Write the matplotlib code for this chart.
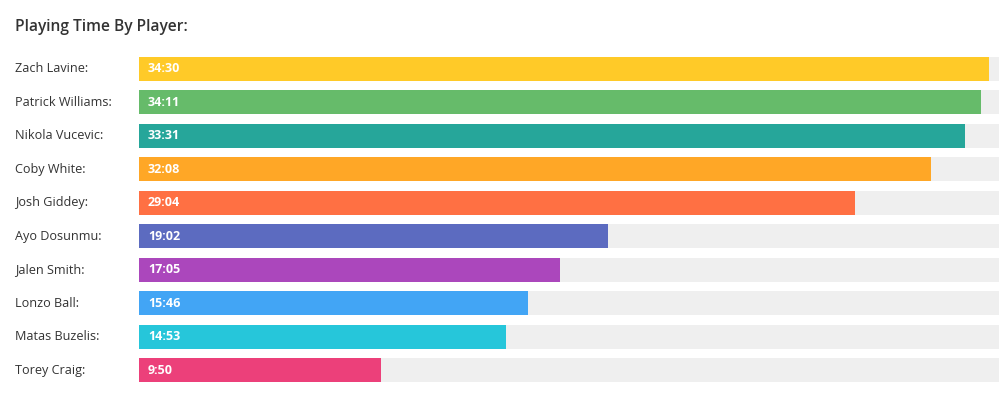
import matplotlib
matplotlib.use("Agg")
import matplotlib.pyplot as plt
import matplotlib.transforms as mtransforms

players = ["Zach Lavine", "Patrick Williams", "Nikola Vucevic", "Coby White",
           "Josh Giddey", "Ayo Dosunmu", "Jalen Smith", "Lonzo Ball",
           "Matas Buzelis", "Torey Craig"]
times = ["34:30", "34:11", "33:31", "32:08", "29:04", "19:02", "17:05",
         "15:46", "14:53", "9:50"]
colors = ["#FFCA28", "#66BB6A", "#26A69A", "#FFA726", "#FF7043", "#5C6BC0",
          "#AB47BC", "#42A5F5", "#26C6DA", "#EC407A"]
track_max = 34.9
title = "Playing Time By Player:"

minutes = [int(t.split(":")[0]) + int(t.split(":")[1]) / 60 for t in times]

plt.rcParams['font.family'] = ['Open Sans', 'DejaVu Sans']

W, H = 1000, 399
fig = plt.figure(figsize=(W / 100, H / 100), dpi=100)
fig.patch.set_facecolor("white")

ax = fig.add_axes([139 / W, 1 - 382 / H, 860 / W, 325 / H])
bar_h = 24 / 33.56
ys = list(range(len(players)))
ax.barh(ys, [track_max] * len(ys), height=bar_h, color="#EFEFEF", left=0)
ax.barh(ys, minutes, height=bar_h, color=colors, left=0)
ax.set_xlim(0, track_max)
ax.set_ylim(len(ys) - 1 + bar_h / 2, -bar_h / 2)
ax.axis("off")

trans = mtransforms.blended_transform_factory(fig.transFigure, ax.transData)
for y, name, t in zip(ys, players, times):
    ax.text(15 / W, y, name + ":", transform=trans, ha="left", va="center",
            fontsize=9.1, color="#333333")
    ax.text(9 / 860 * track_max, y, t, ha="left", va="center",
            fontsize=9, color="white", fontweight="bold")

fig.text(15 / W, 1 - 27 / H, title, ha="left", va="center", fontsize=11.2,
         color="#333333", fontweight="semibold")

fig.savefig("out.png", dpi=100)
